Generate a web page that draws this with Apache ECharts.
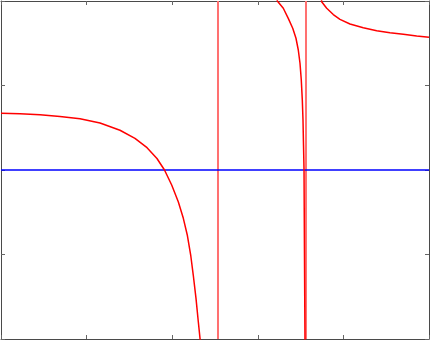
<!DOCTYPE html>
<html>
<head>
<meta charset="utf-8">
<script src="https://cdn.jsdelivr.net/npm/echarts@6/dist/echarts.min.js"></script>
<style>
html,body{margin:0;padding:0;background:#fff;}
#c{width:430px;height:341px;}
</style>
</head>
<body>
<div id="c"></div>
<script>
// axis ranges and ticks
var xTicks = [0, 1, 2, 3, 4, 5];
var yTicks = [-2, -1, 0, 1, 2];

// red curve branches (end points just outside the frame are estimates)
var leftX  = [0, 0.222, 0.456, 0.689, 0.923, 1.157, 1.390, 1.565, 1.706, 1.822, 1.910, 1.994, 2.071, 2.130, 2.176, 2.216, 2.246, 2.278, 2.305, 2.325, 2.340];
var leftY  = [0.671, 0.665, 0.653, 0.633, 0.606, 0.556, 0.470, 0.375, 0.264, 0.136, 0, -0.178, -0.375, -0.572, -0.769, -1.006, -1.243, -1.519, -1.796, -1.992, -2.2];
var midX   = [3.210, 3.228, 3.298, 3.356, 3.408, 3.446, 3.473, 3.493, 3.508, 3.520, 3.528, 3.534, 3.540, 3.545, 3.551, 3.553];
var midY   = [2.2, 2.0, 1.914, 1.795, 1.677, 1.559, 1.420, 1.263, 1.065, 0.828, 0.592, 0.296, 0, -0.947, -2.0, -2.2];
var rightX = [3.730, 3.746, 3.805, 3.882, 3.960, 4.077, 4.232, 4.389, 4.544, 4.700, 4.856, 5.0];
var rightY = [2.2, 1.992, 1.914, 1.840, 1.783, 1.728, 1.684, 1.649, 1.625, 1.606, 1.586, 1.570];

// vertical asymptote crossings drawn by the plot
var poleX = [2.535, 3.563];

// blue horizontal line
var baseX = [0, 5];
var baseY = [0, 0];

function zip(a, b) { return a.map(function (v, i) { return [v, b[i]]; }); }

var axisLineStyle = { show: true, onZero: false, lineStyle: { color: '#4a4a4a', width: 1 } };
var tickStyle = { show: true, inside: true, length: 4, lineStyle: { color: '#666', width: 1 } };

function xAx(pos) {
  return { type: 'value', position: pos, min: xTicks[0], max: xTicks[xTicks.length - 1], interval: 1,
    axisLine: axisLineStyle, axisTick: tickStyle, axisLabel: { show: false }, splitLine: { show: false } };
}
function yAx(pos) {
  return { type: 'value', position: pos, min: yTicks[0], max: yTicks[yTicks.length - 1], interval: 1,
    axisLine: axisLineStyle, axisTick: tickStyle, axisLabel: { show: false }, splitLine: { show: false } };
}

var redLine = { color: '#ff0000', width: 1.5 };
var series = [];
poleX.forEach(function (p) {
  series.push({ type: 'line', data: [[p, yTicks[0]], [p, yTicks[yTicks.length - 1]]], showSymbol: false,
    lineStyle: { color: '#ff7070', width: 2 }, clip: true, z: 2 });
});
series.push({ type: 'line', data: zip(baseX, baseY), showSymbol: false,
  lineStyle: { color: '#0000ff', width: 1.5 }, clip: true, z: 3 });
[[leftX, leftY], [midX, midY], [rightX, rightY]].forEach(function (b) {
  series.push({ type: 'line', data: zip(b[0], b[1]), showSymbol: false,
    lineStyle: redLine, clip: true, z: 4 });
});

var chart = echarts.init(document.getElementById('c'), null, { renderer: 'canvas' });
chart.setOption({
  animation: false,
  grid: { left: 1, right: 1, top: 1, bottom: 2, containLabel: false },
  xAxis: [xAx('bottom'), xAx('top')],
  yAxis: [yAx('left'), yAx('right')],
  series: series
});
</script>
</body>
</html>
